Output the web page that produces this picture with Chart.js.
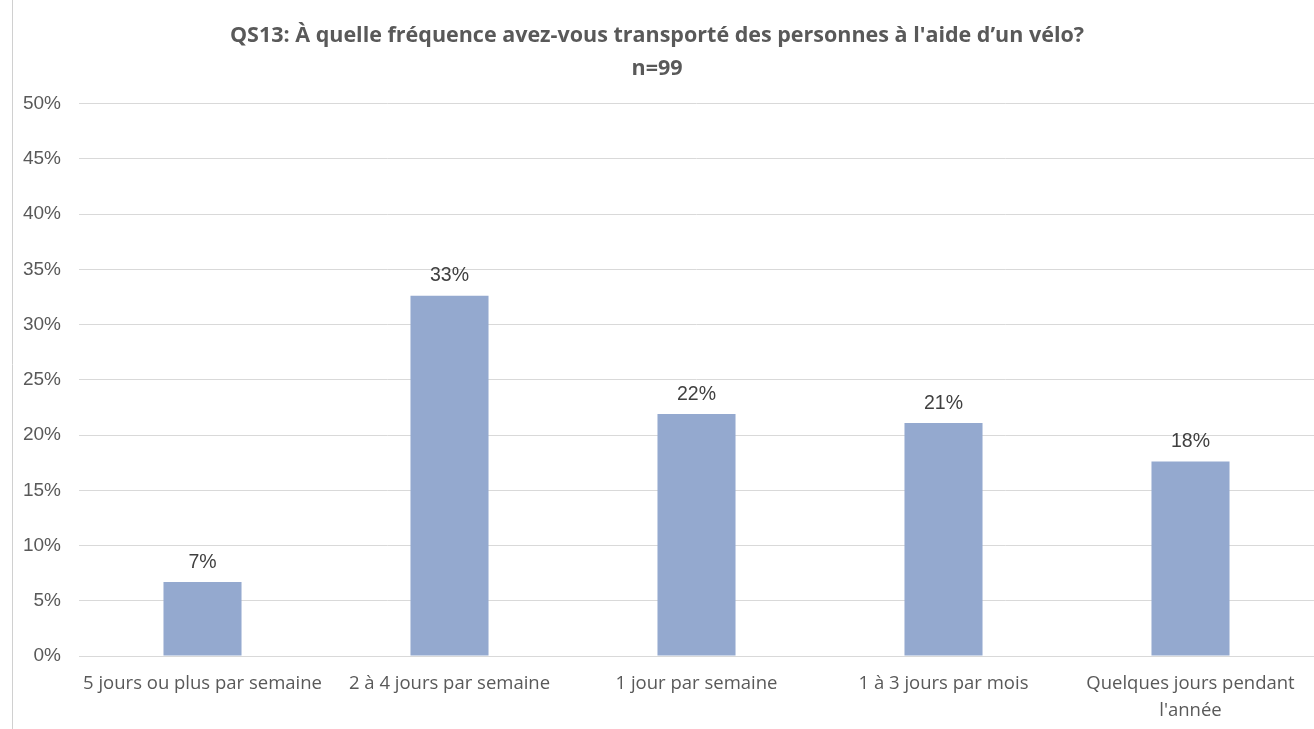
<!DOCTYPE html>
<html>
<head>
<meta charset="utf-8">
<script src="https://cdn.jsdelivr.net/npm/chart.js@4"></script>
<style>
  body { margin: 0; background: #fff; }
  #wrap { width: 1314px; height: 729px; position: relative; }
</style>
</head>
<body>
<div id="wrap"><canvas id="chart" width="1314" height="729"></canvas></div>
<script>
const categories = [
  "5 jours ou plus par semaine",
  "2 à 4 jours par semaine",
  "1 jour par semaine",
  "1 à 3 jours par mois",
  ["Quelques jours pendant", "l'année"]
]
const values = [6.7, 32.6, 21.9, 21.1, 17.6]
const valueLabels = ["7%", "33%", "22%", "21%", "18%"]
const titleLines = ["QS13: À quelle fréquence avez-vous transporté des personnes à l'aide d’un vélo?", "n=99"]

// étiquettes au-dessus des barres
const barLabels = {
  id: "barLabels",
  afterDatasetsDraw(chart) {
    const ctx = chart.ctx
    const meta = chart.getDatasetMeta(0)
    ctx.save()
    ctx.font = "19.5px 'Liberation Sans', Arial, sans-serif"
    ctx.fillStyle = "#404040"
    ctx.textAlign = "center"
    ctx.textBaseline = "bottom"
    meta.data.forEach((bar, i) => {
      ctx.fillText(valueLabels[i], bar.x, bar.y - 10)
    })
    ctx.restore()
  }
}

// bord gauche du cadre
const frame = {
  id: "frame",
  beforeDraw(chart) {
    const ctx = chart.ctx
    ctx.save()
    ctx.fillStyle = "#fff"
    ctx.fillRect(0, 0, chart.width, chart.height)
    ctx.strokeStyle = "#d0d0d0"
    ctx.lineWidth = 1
    ctx.beginPath()
    ctx.moveTo(12.5, 0)
    ctx.lineTo(12.5, chart.height)
    ctx.stroke()
    ctx.restore()
  }
}

const ctx = document.getElementById("chart").getContext("2d")
new Chart(ctx, {
  type: "bar",
  data: {
    labels: categories,
    datasets: [{
      data: values,
      backgroundColor: "#94a9cf",
      barPercentage: 0.316,
      categoryPercentage: 1
    }]
  },
  options: {
    responsive: false,
    animation: false,
    layout: { padding: { left: 0, right: 0, top: 0, bottom: 5 } },
    plugins: {
      legend: { display: false },
      tooltip: { enabled: false },
      title: {
        display: true,
        text: titleLines,
        color: "#595959",
        font: { family: "'Open Sans', 'Noto Sans', sans-serif", size: 21.5, weight: "bold", lineHeight: 1.55 },
        padding: { top: 19, bottom: 18 }
      }
    },
    scales: {
      x: {
        grid: { display: false, drawTicks: false },
        border: { color: "#d9d9d9" },
        ticks: {
          color: "#595959",
          font: { family: "'Open Sans', 'Noto Sans', sans-serif", size: 18.5, lineHeight: 1.45 },
          padding: 14,
          maxRotation: 0,
          autoSkip: false
        },
        afterFit(scale) { scale.height = 68 }
      },
      y: {
        min: 0,
        max: 50,
        grid: { color: "#d9d9d9", drawTicks: false },
        border: { display: false },
        ticks: {
          stepSize: 5,
          color: "#595959",
          font: { family: "'Liberation Sans', Arial, sans-serif", size: 19 },
          padding: 18,
          callback: v => v + "%"
        },
        afterFit(scale) { scale.width = 79 }
      }
    }
  },
  plugins: [frame, barLabels]
})
</script>
</body>
</html>
